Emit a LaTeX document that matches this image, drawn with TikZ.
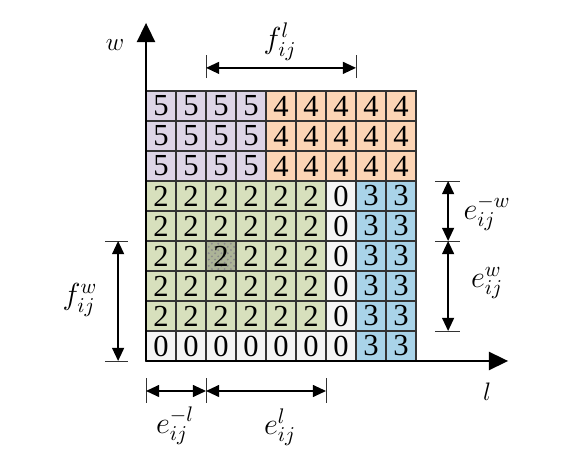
\documentclass[tikz,border=0pt]{standalone}
\usepackage{fontspec}
\newfontfamily\digitfont{Liberation Serif}
\usetikzlibrary{arrows.meta,patterns}
\definecolor{c5}{HTML}{DDD5E6}
\definecolor{c4}{HTML}{FCD5B5}
\definecolor{c2}{HTML}{D7E0BD}
\definecolor{c3}{HTML}{A9D3E9}
\definecolor{c0}{HTML}{F4F4F4}
\begin{document}
\begin{tikzpicture}[x=0.5cm,y=0.5cm,
  cell/.style={draw=black!80,line width=0.5pt,minimum size=0.5cm,inner sep=0pt,
    font=\digitfont\fontsize{14.5}{16}\selectfont,anchor=center},
  hatchcell/.style={preaction={fill=black!20!c2},pattern=crosshatch dots,pattern color=black!45},
  axis/.style={line width=1.1pt,-{Triangle[length=0.32cm,width=0.3cm]}},
  dim/.style={line width=0.7pt,{Triangle[length=0.22cm,width=0.2cm]}-{Triangle[length=0.22cm,width=0.2cm]}},
  tick/.style={line width=0.4pt,black!80},
  lab/.style={font=\fontsize{14}{16}\selectfont,inner sep=0pt},
  axlab/.style={font=\fontsize{13}{15}\selectfont,inner sep=0pt}]
\useasboundingbox (-4.867,-3.367) rectangle (14.133,12.033);
% grid
\foreach \row [count=\r] in {{5,5,5,5,4,4,4,4,4},{5,5,5,5,4,4,4,4,4},{5,5,5,5,4,4,4,4,4},
  {2,2,2,2,2,2,0,3,3},{2,2,2,2,2,2,0,3,3},{2,2,2,2,2,2,0,3,3},{2,2,2,2,2,2,0,3,3},
  {2,2,2,2,2,2,0,3,3},{0,0,0,0,0,0,0,3,3}}{
  \foreach \v [count=\c] in \row {
    \ifnum\r\c=63
      \node[cell,hatchcell] (cell-\r-\c) at (\c-0.5,9.5-\r) {\v};
    \else
      \node[cell,fill=c\v] (cell-\r-\c) at (\c-0.5,9.5-\r) {\v};
    \fi
  }
}
% axes
\coordinate (O) at (0,0);
\coordinate (wend) at (0,11.27);
\coordinate (lend) at (12.07,0);
\draw[axis] (O) -- (wend);
\draw[axis] (O) -- (lend);
\node[axlab] (wlab) at (-1.03,10.53) {$w$};
\node[axlab] (llab) at (11.37,-1.03) {$l$};
% f^l
\coordinate (fla) at (2,9.77); \coordinate (flb) at (7,9.77);
\coordinate (flat) at (2,10.2); \coordinate (flab) at (2,9.43);
\coordinate (flbt) at (7,10.2); \coordinate (flbb) at (7,9.43);
\draw[tick] (flab) -- (flat);
\draw[tick] (flbb) -- (flbt);
\draw[dim] (fla) -- (flb);
\node[lab] (fl) at (4.47,10.65) {$f_{ij}^{l}$};
% bottom
\coordinate (b0) at (0,-1); \coordinate (b2) at (2,-1); \coordinate (b6) at (6,-1);
\coordinate (b0t) at (0,-0.57); \coordinate (b0b) at (0,-1.4);
\coordinate (b2t) at (2,-0.57); \coordinate (b2b) at (2,-1.4);
\coordinate (b6t) at (6,-0.57); \coordinate (b6b) at (6,-1.4);
\draw[tick] (b0t) -- (b0b);
\draw[tick] (b2t) -- (b2b);
\draw[tick] (b6t) -- (b6b);
\draw[dim] (b0) -- (b2);
\draw[dim] (b2) -- (b6);
\node[lab] (eml) at (0.97,-2.15) {$e_{ij}^{-l}$};
\node[lab] (el) at (4.47,-2.2) {$e_{ij}^{l}$};
% right
\coordinate (r6) at (10.07,6); \coordinate (r4) at (10.07,4); \coordinate (r1) at (10.07,1);
\coordinate (r6l) at (9.63,6); \coordinate (r6r) at (10.47,6);
\coordinate (r4l) at (9.63,4); \coordinate (r4r) at (10.47,4);
\coordinate (r1l) at (9.63,1); \coordinate (r1r) at (10.47,1);
\draw[tick] (r6l) -- (r6r);
\draw[tick] (r4l) -- (r4r);
\draw[tick] (r1l) -- (r1r);
\draw[dim] (r6) -- (r4);
\draw[dim] (r4) -- (r1);
\node[lab] (emw) at (11.37,4.93) {$e_{ij}^{-w}$};
\node[lab] (ew) at (11.37,2.6) {$e_{ij}^{w}$};
% left
\coordinate (l4) at (-0.93,4); \coordinate (l0) at (-0.93,0);
\coordinate (l4l) at (-1.37,4); \coordinate (l4r) at (-0.6,4);
\coordinate (l0l) at (-1.37,0); \coordinate (l0r) at (-0.6,0);
\draw[tick] (l4l) -- (l4r);
\draw[tick] (l0l) -- (l0r);
\draw[dim] (l4) -- (l0);
\node[lab] (fw) at (-2.2,2.03) {$f_{ij}^{w}$};
\end{tikzpicture}
\end{document}
